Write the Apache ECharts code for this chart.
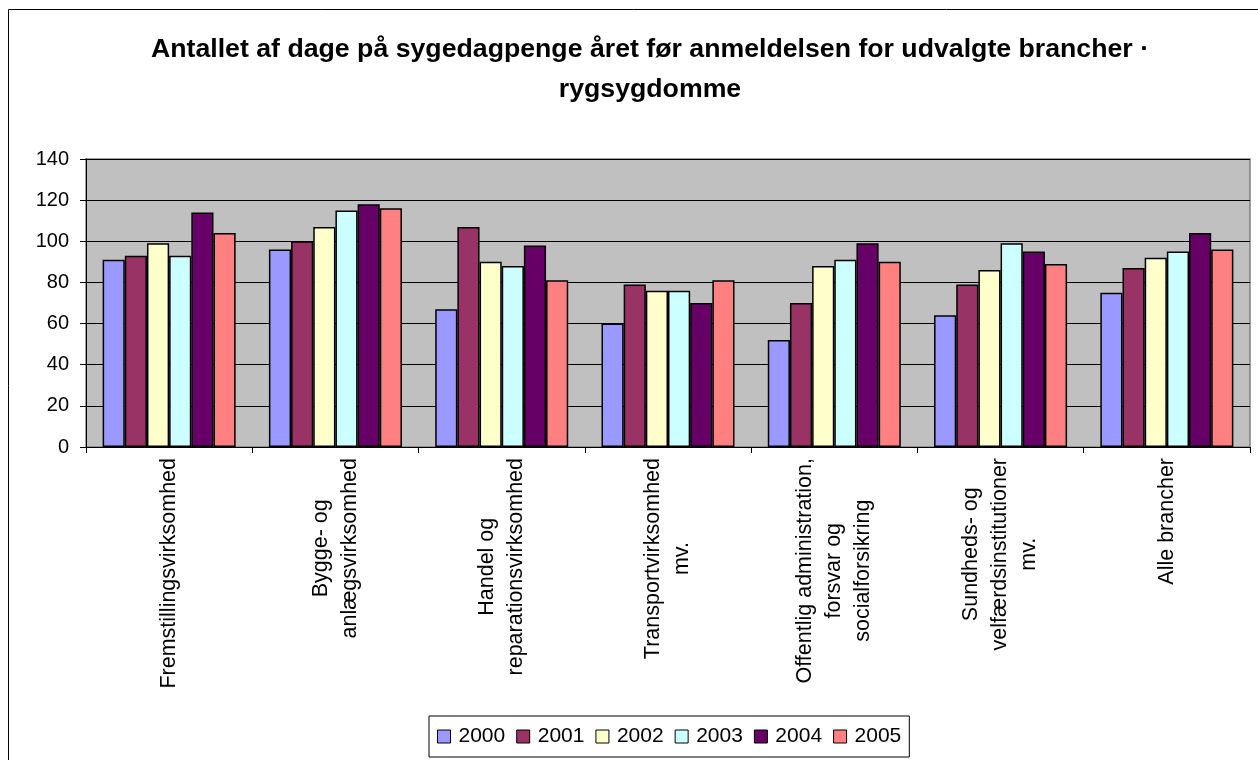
<!DOCTYPE html>
<html>
<head>
<meta charset="utf-8">
<script src="https://cdn.jsdelivr.net/npm/echarts@6/dist/echarts.min.js"></script>
<style>
  html, body { margin: 0; padding: 0; background: #fff; }
  #chart { width: 1258px; height: 760px; }
</style>
</head>
<body>
<div id="chart"></div>
<script>
const titleText = 'Antallet af dage på sygedagpenge året før anmeldelsen for udvalgte brancher ·\nrygsygdomme';
const categories = [
  'Fremstillingsvirksomhed',
  'Bygge- og\nanlægsvirksomhed',
  'Handel og\nreparationsvirksomhed',
  'Transportvirksomhed\nmv.',
  'Offentlig administration,\nforsvar og\nsocialforsikring',
  'Sundheds- og\nvelfærdsinstitutioner\nmv.',
  'Alle brancher'
];
const years = ['2000', '2001', '2002', '2003', '2004', '2005'];
const v2000 = [91, 96, 67, 60, 52, 64, 75];
const v2001 = [93, 100, 107, 79, 70, 79, 87];
const v2002 = [99, 107, 90, 76, 88, 86, 92];
const v2003 = [93, 115, 88, 76, 91, 99, 95];
const v2004 = [114, 118, 98, 70, 99, 95, 104];
const v2005 = [104, 116, 81, 81, 90, 89, 96];
const yTicks = [0, 20, 40, 60, 80, 100, 120, 140];

const seriesValues = [v2000, v2001, v2002, v2003, v2004, v2005];
const colors = ['#9999FF', '#993366', '#FFFFCC', '#CCFFFF', '#660066', '#FF8080'];
const FONT = "'Liberation Sans', Arial, sans-serif";

const chart = echarts.init(document.getElementById('chart'), null, { renderer: 'canvas' });
chart.setOption({
  backgroundColor: '#ffffff',
  animation: false,
  graphic: [{
    type: 'rect',
    shape: { x: 8.5, y: 9.5, width: 1300, height: 800 },
    style: { fill: 'none', stroke: '#000', lineWidth: 1 },
    z: -10
  }],
  title: {
    text: titleText,
    left: 645,
    top: 25,
    textAlign: 'center',
    textStyle: { fontFamily: FONT, fontSize: 26.7, fontWeight: 'bold', color: '#000', lineHeight: 40 }
  },
  legend: {
    data: years,
    left: 429,
    top: 716,
    icon: 'rect',
    itemWidth: 13,
    itemHeight: 13,
    itemGap: 11,
    padding: [10, 8],
    borderColor: '#000',
    borderWidth: 1,
    backgroundColor: '#fff',
    itemStyle: { borderColor: '#000', borderWidth: 1 },
    textStyle: { fontFamily: FONT, fontSize: 21, color: '#000', padding: [0, 0, 0, 3] }
  },
  grid: {
    left: 86, right: 8, top: 159, bottom: 313,
    show: true, backgroundColor: '#C0C0C0', borderColor: '#808080', borderWidth: 1.5
  },
  xAxis: {
    type: 'category',
    data: categories,
    axisLine: { lineStyle: { color: '#000', width: 1 } },
    axisTick: { show: true, alignWithLabel: false, length: 6, lineStyle: { color: '#000' } },
    axisLabel: {
      interval: 0,
      rotate: 90,
      margin: 11,
      color: '#000',
      fontFamily: FONT,
      fontSize: 21.5,
      lineHeight: 29,
      formatter: function (v) {
        return v.split('\n').map(function (s) { return '{c|' + s + '}'; }).join('\n');
      },
      rich: {
        c: { align: 'center', fontFamily: FONT, fontSize: 21.5, lineHeight: 29, color: '#000' }
      }
    }
  },
  yAxis: {
    type: 'value',
    min: yTicks[0],
    max: yTicks[yTicks.length - 1],
    interval: 20,
    axisLine: { show: true, lineStyle: { color: '#000', width: 1 } },
    axisTick: { show: true, length: 6, lineStyle: { color: '#000' } },
    axisLabel: { margin: 17, color: '#000', fontFamily: FONT, fontSize: 20 },
    splitLine: { show: true, lineStyle: { color: '#000', width: 1 } }
  },
  series: years.map(function (y, i) {
    return {
      name: y,
      type: 'bar',
      data: seriesValues[i],
      barGap: '0%',
      barCategoryGap: '20%',
      itemStyle: { color: colors[i], borderColor: '#000', borderWidth: 1.5 }
    };
  })
});
</script>
</body>
</html>
